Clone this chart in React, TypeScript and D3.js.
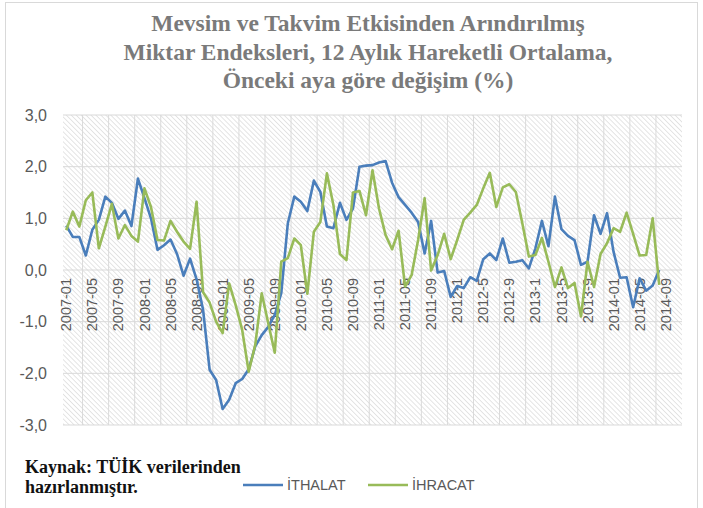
import React, { useEffect, useRef } from 'react';
import * as d3 from 'd3';

// monthly series, 2007-01 .. 2014-08
const ithalat = [
  0.86, 0.64, 0.64, 0.28, 0.78, 0.97, 1.42, 1.30, 0.99, 1.15, 0.85, 1.77,
  1.39, 1.00, 0.39, 0.48, 0.59, 0.31, -0.11, 0.22, -0.18, -0.77, -1.93, -2.13,
  -2.69, -2.51, -2.19, -2.11, -1.92, -1.48, -1.26, -1.10, -0.87, -0.45, 0.90, 1.42,
  1.32, 1.14, 1.73, 1.51, 0.84, 0.81, 1.30, 0.97, 1.19, 2.00, 2.02, 2.03,
  2.08, 2.11, 1.69, 1.41, 1.26, 1.11, 0.93, 0.32, 0.95, -0.05, -0.02, -0.52,
  -0.31, -0.35, -0.14, -0.21, 0.21, 0.32, 0.19, 0.61, 0.14, 0.16, 0.19, 0.03,
  0.42, 0.95, 0.46, 1.42, 0.79, 0.66, 0.58, 0.10, 0.16, 1.06, 0.70, 1.10,
  0.35, -0.15, -0.14, -0.72, -0.16, -0.40, -0.30, 0.00
];

const ihracat = [
  0.77, 1.13, 0.84, 1.35, 1.50, 0.42, 0.84, 1.28, 0.61, 0.87, 0.66, 0.55,
  1.58, 1.22, 0.58, 0.57, 0.95, 0.74, 0.55, 0.41, 1.32, -0.43, -0.63, -1.00,
  -1.22, -0.26, -0.68, -1.16, -1.97, -1.45, -0.45, -1.03, -1.60, 0.16, 0.23, 0.61,
  0.48, -0.46, 0.74, 0.93, 1.87, 1.26, 0.31, 0.19, 1.50, 1.53, 1.06, 1.93,
  1.19, 0.68, 0.40, 0.76, -0.32, -0.10, 0.58, 1.39, -0.01, 0.29, 0.70, 0.21,
  0.58, 0.97, 1.11, 1.26, 1.58, 1.88, 1.22, 1.60, 1.66, 1.51, 0.90, 0.26,
  0.29, 0.62, 0.16, -0.33, 0.05, -0.35, -0.25, -0.90, 0.16, -0.33, 0.31, 0.52,
  0.81, 0.74, 1.11, 0.70, 0.28, 0.29, 1.00, -0.29
];

// every 4th category gets a label, as written on the chart
const tickLabels = [
  '2007-01', '2007-05', '2007-09', '2008-01', '2008-05', '2008-09',
  '2009-01', '2009-05', '2009-09', '2010-01', '2010-05', '2010-09',
  '2011-01', '2011-05', '2011-09', '2012-1', '2012-5', '2012-9',
  '2013-1', '2013-5', '2013-9', '2014-01', '2014-05', '2014-09'
];

const yTicks = [3, 2, 1, 0, -1, -2, -3];

const titleLines = [
  'Mevsim ve Takvim Etkisinden Arındırılmış',
  'Miktar Endeksleri, 12 Aylık Hareketli Ortalama,',
  'Önceki aya göre değişim (%)'
];

const sourceLines = ['Kaynak: TÜİK verilerinden', 'hazırlanmıştır.'];

const seriesNames = ['İTHALAT', 'İHRACAT'];
const colors = ['#4a7ebb', '#98bb59'];

const nCategories = 95;

const App = () => {
  const svgRef = useRef(null);

  useEffect(() => {
    const svg = d3.select(svgRef.current);
    svg.selectAll('*').remove();

    const plot = { left: 63, right: 682, top: 115, bottom: 425 };

    const categories = d3.range(nCategories);
    const x = d3.scaleBand()
      .domain(categories)
      .range([plot.left, plot.right])
      .paddingInner(0)
      .paddingOuter(0);
    const cx = i => x(i) + x.bandwidth() / 2;

    const y = d3.scaleLinear()
      .domain([-3, 3])
      .range([plot.bottom, plot.top]);

    // hatch pattern for plot area
    const defs = svg.append('defs');
    const pat = defs.append('pattern')
      .attr('id', 'hatch')
      .attr('patternUnits', 'userSpaceOnUse')
      .attr('width', 3.5)
      .attr('height', 3.5)
      .attr('patternTransform', 'rotate(-45)');
    pat.append('rect').attr('width', 3.5).attr('height', 3.5).attr('fill', '#ffffff');
    pat.append('line')
      .attr('x1', 0).attr('y1', 0).attr('x2', 0).attr('y2', 3.5)
      .attr('stroke', '#d4d4d4')
      .attr('stroke-width', 1.2);

    // outer chart border
    svg.append('rect')
      .attr('x', 5.5).attr('y', 2.5)
      .attr('width', 692).attr('height', 510)
      .attr('fill', 'white')
      .attr('stroke', '#d9d9d9');

    svg.append('rect')
      .attr('x', plot.left).attr('y', plot.top)
      .attr('width', plot.right - plot.left)
      .attr('height', plot.bottom - plot.top)
      .attr('fill', 'url(#hatch)');

    // gridlines
    svg.append('g')
      .selectAll('line')
      .data(yTicks)
      .enter().append('line')
      .attr('x1', plot.left).attr('x2', plot.right)
      .attr('y1', d => y(d)).attr('y2', d => y(d))
      .attr('stroke', '#d9d9d9')
      .attr('stroke-width', 1);

    const vGrid = categories.filter(i => i % 4 === 3);
    svg.append('g')
      .selectAll('line')
      .data(vGrid)
      .enter().append('line')
      .attr('x1', d => x(d)).attr('x2', d => x(d))
      .attr('y1', plot.top).attr('y2', plot.bottom)
      .attr('stroke', '#dadada')
      .attr('stroke-width', 1);

    // y tick labels
    svg.append('g')
      .selectAll('text')
      .data(yTicks)
      .enter().append('text')
      .attr('x', 47)
      .attr('y', d => y(d))
      .attr('dy', '0.35em')
      .attr('text-anchor', 'end')
      .attr('fill', '#595959')
      .style('font-family', 'Liberation Sans, Arial, sans-serif')
      .style('font-size', '16px')
      .text(d => d3.format('.1f')(d).replace('.', ',').replace('−', '-'));

    // category labels sit under the zero line
    svg.append('g')
      .selectAll('text')
      .data(tickLabels)
      .enter().append('text')
      .attr('transform', (d, k) => `translate(${cx(k * 4)},${y(0) + 8}) rotate(-90)`)
      .attr('dy', '0.35em')
      .attr('text-anchor', 'end')
      .attr('fill', '#595959')
      .style('font-family', 'Liberation Sans, Arial, sans-serif')
      .style('font-size', '14.5px')
      .text(d => d);

    // lines
    const line = d3.line()
      .x((d, i) => cx(i))
      .y(d => y(d));

    [ithalat, ihracat].forEach((values, s) => {
      svg.append('path')
        .datum(values)
        .attr('d', line)
        .attr('fill', 'none')
        .attr('stroke', colors[s])
        .attr('stroke-width', 2.6)
        .attr('stroke-linejoin', 'round');
    });

    // title
    svg.append('g')
      .selectAll('text')
      .data(titleLines)
      .enter().append('text')
      .attr('x', 368)
      .attr('y', (d, i) => 31 + i * 28.5)
      .attr('text-anchor', 'middle')
      .attr('fill', '#7a7a7a')
      .style('font-family', 'Liberation Serif, Times New Roman, serif')
      .style('font-weight', 'bold')
      .style('font-size', '23.5px')
      .text(d => d);

    // source note
    svg.append('g')
      .selectAll('text')
      .data(sourceLines)
      .enter().append('text')
      .attr('x', 25)
      .attr('y', (d, i) => 473 + i * 20)
      .attr('fill', '#111')
      .style('font-family', 'Liberation Serif, Times New Roman, serif')
      .style('font-weight', 'bold')
      .style('font-size', '18px')
      .text(d => d);

    // legend
    const legendX = [243, 368];
    seriesNames.forEach((name, s) => {
      const g = svg.append('g').attr('transform', `translate(${legendX[s]},485)`);
      g.append('line')
        .attr('x1', 0).attr('x2', 40)
        .attr('y1', 0).attr('y2', 0)
        .attr('stroke', colors[s])
        .attr('stroke-width', 2.6);
      g.append('text')
        .attr('x', 44)
        .attr('y', 0)
        .attr('dy', '0.35em')
        .attr('fill', '#595959')
        .style('font-family', 'Liberation Sans, Arial, sans-serif')
        .style('font-size', '14.5px')
        .text(name);
    });
  }, []);

  return (
    <svg
      ref={svgRef}
      width={703}
      height={508}
      style={{ position: 'absolute', left: 0, top: 0, background: 'white' }}
    />
  );
};

export default App;
